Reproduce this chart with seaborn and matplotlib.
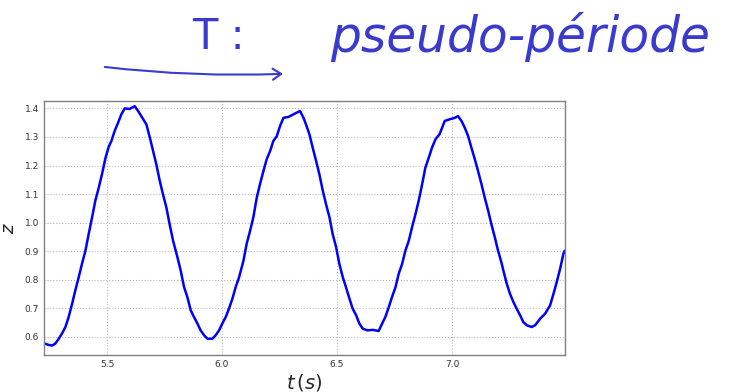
import numpy as np
import pandas as pd
import matplotlib
matplotlib.use("Agg")
import matplotlib.pyplot as plt
import seaborn as sns

t = [5.229, 5.247, 5.261, 5.275, 5.290, 5.304, 5.319, 5.333, 5.348, 5.362,
     5.377, 5.391, 5.406, 5.420, 5.435, 5.449, 5.464, 5.478, 5.493, 5.507,
     5.519, 5.533, 5.548, 5.562, 5.577, 5.598, 5.620, 5.635, 5.649, 5.671,
     5.686, 5.700, 5.714, 5.729, 5.743, 5.758, 5.772, 5.787, 5.806, 5.820,
     5.835, 5.849, 5.864, 5.878, 5.893, 5.907, 5.922, 5.936, 5.958, 5.972,
     5.987, 6.001, 6.016, 6.030, 6.045, 6.059, 6.074, 6.093, 6.107, 6.122,
     6.136, 6.151, 6.165, 6.180, 6.194, 6.209, 6.223, 6.238, 6.252, 6.267,
     6.288, 6.310, 6.339, 6.354, 6.365, 6.380, 6.394, 6.409, 6.423, 6.438,
     6.452, 6.467, 6.481, 6.496, 6.510, 6.525, 6.539, 6.554, 6.568, 6.583,
     6.597, 6.612, 6.633, 6.655, 6.681, 6.696, 6.710, 6.725, 6.739, 6.754,
     6.768, 6.783, 6.797, 6.812, 6.826, 6.841, 6.855, 6.870, 6.884, 6.899,
     6.913, 6.928, 6.946, 6.954, 6.968, 6.990, 7.012, 7.026, 7.041, 7.055,
     7.070, 7.084, 7.099, 7.113, 7.128, 7.142, 7.157, 7.171, 7.186, 7.200,
     7.215, 7.223, 7.238, 7.252, 7.267, 7.281, 7.296, 7.310, 7.325, 7.346,
     7.361, 7.383, 7.404, 7.426, 7.441, 7.455, 7.470, 7.484, 7.490]
z = [0.577, 0.572, 0.570, 0.577, 0.594, 0.612, 0.635, 0.670, 0.716, 0.763,
     0.810, 0.856, 0.902, 0.960, 1.019, 1.077, 1.123, 1.170, 1.226, 1.265,
     1.286, 1.321, 1.350, 1.379, 1.400, 1.398, 1.408, 1.391, 1.373, 1.344,
     1.298, 1.251, 1.205, 1.147, 1.100, 1.053, 0.995, 0.937, 0.879, 0.833,
     0.774, 0.740, 0.693, 0.670, 0.647, 0.623, 0.606, 0.594, 0.594, 0.606,
     0.623, 0.647, 0.670, 0.699, 0.734, 0.774, 0.809, 0.867, 0.926, 0.972,
     1.019, 1.088, 1.135, 1.181, 1.222, 1.251, 1.286, 1.303, 1.338, 1.367,
     1.370, 1.379, 1.391, 1.367, 1.344, 1.309, 1.263, 1.216, 1.170, 1.112,
     1.065, 1.019, 0.960, 0.914, 0.856, 0.809, 0.774, 0.734, 0.699, 0.676,
     0.647, 0.629, 0.623, 0.625, 0.621, 0.647, 0.670, 0.705, 0.740, 0.774,
     0.821, 0.856, 0.902, 0.937, 0.984, 1.030, 1.077, 1.135, 1.193, 1.228,
     1.263, 1.292, 1.310, 1.327, 1.356, 1.362, 1.367, 1.373, 1.356, 1.333,
     1.303, 1.263, 1.222, 1.181, 1.135, 1.088, 1.042, 0.995, 0.949, 0.902,
     0.860, 0.833, 0.786, 0.751, 0.722, 0.699, 0.676, 0.652, 0.641, 0.635,
     0.641, 0.664, 0.681, 0.710, 0.751, 0.792, 0.839, 0.891, 0.902]

xticks = [5.5, 6.0, 6.5, 7.0]
yticks = [0.6, 0.7, 0.8, 0.9, 1.0, 1.1, 1.2, 1.3, 1.4]

df = pd.DataFrame({"t": t, "z": z})

sns.set_style("white")
fig = plt.figure(figsize=(7.29, 3.92), dpi=100)
ax = fig.add_axes([0.0604, 0.0944, 0.7146, 0.648])

sns.lineplot(data=df, x="t", y="z", ax=ax, color="#0000ff", lw=1.8, sort=False)

ax.set_xlim(5.226, 7.491)
ax.set_ylim(0.537, 1.426)
ax.set_xticks(xticks)
ax.set_yticks(yticks)
ax.set_xticklabels([f"{v:.1f}" for v in xticks])
ax.set_yticklabels([f"{v:.1f}" for v in yticks])
ax.tick_params(labelsize=6.5, colors="#333333", length=0)
ax.grid(True, ls=":", color="#b8b8b8", lw=0.8)
for s in ax.spines.values():
    s.set_color("#808080")
    s.set_linewidth(1)

ax.set_xlabel(r"$t\,(s)$", fontsize=14, labelpad=2)
ax.set_ylabel(r"$z$", fontsize=13)
ax.yaxis.set_label_coords(-0.05, 0.5)

# Annotation manuscrite
fig.text(0.300, 0.905, "T :", fontsize=30, color="#3a3acd", ha="center", va="center")
fig.text(0.713, 0.905, "pseudo-période", fontsize=35, color="#3a3acd", ha="center",
         va="center", fontstyle="italic")
fig.add_artist(matplotlib.patches.FancyArrowPatch(
    (0.14, 0.83), (0.392, 0.812), transform=fig.transFigure,
    arrowstyle="->,head_length=6,head_width=4", color="#3a3acd", lw=1.5,
    connectionstyle="arc3,rad=0.04"))

fig.savefig("out.png", dpi=100)
